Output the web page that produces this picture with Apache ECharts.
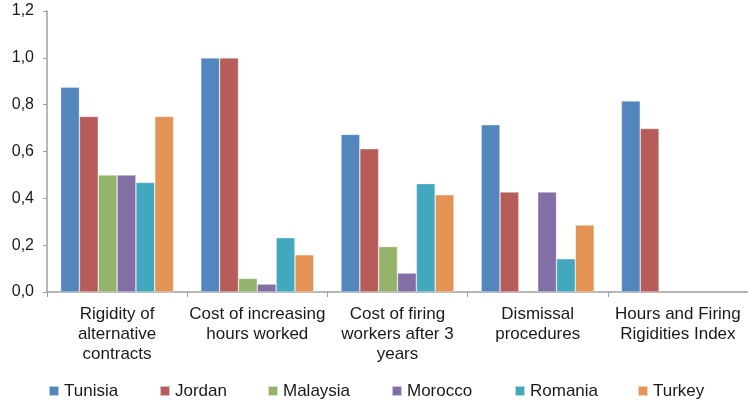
<!DOCTYPE html>
<html><head><meta charset="utf-8">
<script src="https://cdn.jsdelivr.net/npm/echarts@6/dist/echarts.min.js"></script>
<style>html,body{margin:0;padding:0;background:#fff}#c{width:748px;height:402px}</style>
</head><body><div id="c"></div>
<script>
var categories = ["Rigidity of\nalternative\ncontracts", "Cost of increasing\nhours worked", "Cost of firing\nworkers after 3\nyears", "Dismissal\nprocedures", "Hours and Firing\nRigidities Index"];
var seriesNames = ["Tunisia", "Jordan", "Malaysia", "Morocco", "Romania", "Turkey"];
var tunisia  = [0.875, 1.0, 0.673, 0.714, 0.816];
var jordan   = [0.75, 1.0, 0.612, 0.427, 0.698];
var malaysia = [0.5, 0.058, 0.194, null, null];
var morocco  = [0.5, 0.034, 0.081, 0.427, null];
var romania  = [0.468, 0.232, 0.463, 0.142, null];
var turkey   = [0.75, 0.159, 0.415, 0.286, null];
var yTicks = [0, 0.2, 0.4, 0.6, 0.8, 1.0, 1.2];

var colors = ["#5286BC", "#B75D59", "#93B36B", "#826FA6", "#42A8C0", "#E39353"];
var values = [tunisia, jordan, malaysia, morocco, romania, turkey];
var legendLeft = [48, 159, 267, 391, 514, 637];
var font = "'Liberation Sans', Arial, Helvetica, sans-serif";

var chart = echarts.init(document.getElementById('c'), null, {renderer: 'canvas'});
chart.setOption({
  animation: false,
  color: colors,
  grid: {left: 47, top: 11, bottom: 110, width: 708, containLabel: false},
  legend: seriesNames.map(function (n, i) {
    return {
      data: [n], left: legendLeft[i], top: 381, padding: 0,
      icon: 'rect', itemWidth: 10, itemHeight: 10, itemGap: 4,
      textStyle: {fontFamily: font, fontSize: 17, lineHeight: 20, color: '#1a1a1a'}
    };
  }),
  xAxis: {
    type: 'category',
    data: categories,
    axisLine: {lineStyle: {color: '#A0A0A0', width: 1.5}},
    axisTick: {show: true, length: 5, interval: 0, lineStyle: {color: '#A0A0A0'}},
    axisLabel: {interval: 0, fontFamily: font, fontSize: 17, color: '#1a1a1a', lineHeight: 20, margin: 12}
  },
  yAxis: {
    type: 'value', min: yTicks[0], max: yTicks[yTicks.length - 1], interval: 0.2,
    axisLine: {show: true, lineStyle: {color: '#A0A0A0', width: 1.5}},
    axisTick: {show: true, length: 4, lineStyle: {color: '#A0A0A0'}},
    splitLine: {show: false},
    axisLabel: {fontFamily: font, fontSize: 16, color: '#1a1a1a', margin: 13,
      formatter: function (v) { return v.toFixed(1).replace('.', ','); }}
  },
  series: seriesNames.map(function (n, i) {
    return {
      name: n, type: 'bar', data: values[i],
      barGap: '0%', barCategoryGap: '19.4%',
      itemStyle: {color: colors[i], borderColor: 'rgba(255,255,255,0.6)', borderWidth: 0.6}
    };
  })
});
</script></body></html>
